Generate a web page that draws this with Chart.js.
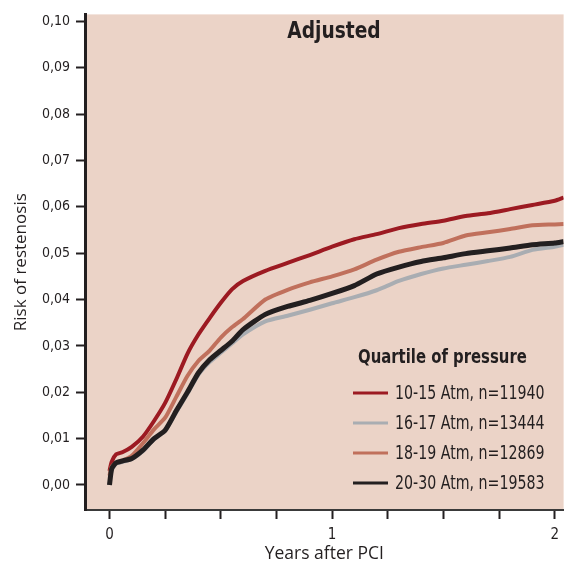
<!DOCTYPE html>
<html>
<head>
<meta charset="utf-8">
<script src="https://cdn.jsdelivr.net/npm/chart.js@4.4.0/dist/chart.umd.min.js"></script>
<style>
  html, body { margin: 0; padding: 0; background: #fff; }
  #wrap { width: 566px; height: 565px; }
</style>
</head>
<body>
<div id="wrap"><canvas id="km-chart"></canvas></div>
<script>
// years after PCI
var years = [0, 0.01, 0.03, 0.06, 0.1, 0.15, 0.2, 0.25, 0.3, 0.35, 0.4, 0.45, 0.5, 0.55, 0.6,
             0.7, 0.8, 0.9, 1.0, 1.1, 1.2, 1.3, 1.4, 1.5, 1.6, 1.7, 1.8, 1.9, 2.0, 2.04];

var atm10to15 = [0.003, 0.005, 0.0066, 0.0071, 0.0082, 0.0104, 0.0138, 0.0177, 0.0228, 0.0283, 0.0325, 0.036, 0.0393, 0.0422, 0.0440,
                 0.0462, 0.0479, 0.0496, 0.0514, 0.0530, 0.0541, 0.0554, 0.0563, 0.0570, 0.0580, 0.0586, 0.0595, 0.0604, 0.0613, 0.0620];
var atm16to17 = [0.000, 0.0033, 0.0046, 0.0050, 0.0056, 0.0073, 0.0098, 0.0117, 0.0157, 0.0197, 0.0238, 0.0265, 0.0285, 0.0305, 0.0325,
                 0.0353, 0.0365, 0.0378, 0.0392, 0.0405, 0.0420, 0.0440, 0.0455, 0.0467, 0.0475, 0.0483, 0.0492, 0.0507, 0.0514, 0.0518];
var atm18to19 = [0.002, 0.0040, 0.0048, 0.0053, 0.0063, 0.0090, 0.0120, 0.0145, 0.0190, 0.0235, 0.0268, 0.0290, 0.0318, 0.0340, 0.0358,
                 0.0400, 0.0421, 0.0437, 0.0450, 0.0465, 0.0486, 0.0503, 0.0513, 0.0522, 0.0538, 0.0545, 0.0552, 0.0560, 0.0562, 0.0563];
var atm20to30 = [0.000, 0.0035, 0.0048, 0.0052, 0.0057, 0.0075, 0.0100, 0.0118, 0.0160, 0.0200, 0.0242, 0.0270, 0.0290, 0.0310, 0.0335,
                 0.0368, 0.0385, 0.0398, 0.0413, 0.0430, 0.0455, 0.0470, 0.0482, 0.0490, 0.0499, 0.0505, 0.0511, 0.0518, 0.0522, 0.0525];

var yTicks = [0, 0.01, 0.02, 0.03, 0.04, 0.05, 0.06, 0.07, 0.08, 0.09, 0.10];
var xTicks = [0, 0.25, 0.5, 0.75, 1, 1.25, 1.5, 1.75, 2];
var xLabels = {0: "0", 1: "1", 2: "2"};

var narrow = "'DejaVu Sans Condensed', 'Liberation Sans', sans-serif";
var plain = "'Open Sans', 'Liberation Sans', sans-serif";

function pts(ys) {
    return years.map(function (x, i) { return {x: x, y: ys[i]}; });
}

// lower order is painted later (on top)
function series(label, ys, color, w, order) {
    return {
        label: label,
        data: pts(ys),
        borderColor: color,
        backgroundColor: color,
        borderWidth: w,
        pointRadius: 0,
        tension: 0.2,
        fill: false,
        order: order
    };
}

var plotBg = {
    id: 'plotBg',
    beforeDraw: function (chart) {
        var a = chart.chartArea, ctx = chart.ctx;
        ctx.save();
        ctx.fillStyle = '#EBD3C7';
        ctx.fillRect(a.left, a.top, a.right - a.left, a.bottom - a.top);
        ctx.restore();
    }
};

// squeeze text sideways, the original uses a condensed face
function narrowText(ctx, text, x, y, sx) {
    ctx.save();
    ctx.translate(x, y);
    ctx.scale(sx, 1);
    ctx.fillText(text, 0, 0);
    ctx.restore();
}

// title and legend sit inside the plot area
var insideText = {
    id: 'insideText',
    afterDraw: function (chart) {
        var ctx = chart.ctx;
        ctx.save();
        ctx.fillStyle = '#231F20';
        ctx.textBaseline = 'middle';
        ctx.textAlign = 'center';
        ctx.font = "bold 23px " + narrow;
        narrowText(ctx, 'Adjusted', 334, 32, 0.9);

        ctx.textAlign = 'left';
        ctx.font = "bold 19px " + narrow;
        narrowText(ctx, 'Quartile of pressure', 358, 358, 0.87);

        ctx.font = "19px " + narrow;
        chart.data.datasets.forEach(function (ds, i) {
            var y = 393 + i * 30;
            ctx.strokeStyle = ds.borderColor;
            ctx.lineWidth = 3;
            ctx.beginPath();
            ctx.moveTo(353, y);
            ctx.lineTo(388, y);
            ctx.stroke();
            ctx.fillStyle = '#231F20';
            narrowText(ctx, ds.label, 395, y + 1, 0.83);
        });
        ctx.restore();
    }
};

new Chart(document.getElementById("km-chart"), {
    type: 'line',
    data: {
        datasets: [
            series('10-15 Atm, n=11940', atm10to15, '#9C1A22', 4, 3),
            series('16-17 Atm, n=13444', atm16to17, '#A9ADB2', 4, 2),
            series('18-19 Atm, n=12869', atm18to19, '#C0705C', 4, 1),
            series('20-30 Atm, n=19583', atm20to30, '#231F20', 5, 0)
        ]
    },
    options: {
        responsive: true,
        maintainAspectRatio: false,
        animation: false,
        layout: { padding: { top: 11, right: 0, left: 0, bottom: 0 } },
        plugins: {
            legend: { display: false },
            tooltip: { enabled: false },
            title: { display: false }
        },
        scales: {
            x: {
                type: 'linear',
                min: -0.11,
                max: 2.04,
                afterBuildTicks: function (s) { s.ticks = xTicks.map(function (v) { return {value: v}; }); },
                afterFit: function (s) { s.height = 55; },
                ticks: {
                    autoSkip: false,
                    maxRotation: 0,
                    padding: 7,
                    color: '#231F20',
                    font: { family: narrow, size: 15 },
                    callback: function (v) { return xLabels[v] || ''; }
                },
                grid: { display: true, drawOnChartArea: false, tickLength: 9, tickColor: '#231F20', tickWidth: 2 },
                border: { display: true, color: '#3a3a3a', width: 2 },
                title: {
                    display: true,
                    text: 'Years after PCI',
                    color: '#231F20',
                    font: { family: plain, size: 17.5 },
                    padding: { top: 0, bottom: 0 }
                }
            },
            y: {
                type: 'linear',
                min: -0.0054,
                max: 0.1015,
                afterBuildTicks: function (s) { s.ticks = yTicks.map(function (v) { return {value: v}; }); },
                afterFit: function (s) { s.width = 85; },
                ticks: {
                    padding: 6,
                    color: '#231F20',
                    font: { family: narrow, size: 14 },
                    callback: function (v) { return v.toFixed(2).replace('.', ','); }
                },
                grid: { display: true, drawOnChartArea: false, tickLength: 9, tickColor: '#231F20', tickWidth: 2 },
                border: { display: true, color: '#231F20', width: 3 },
                title: {
                    display: true,
                    text: 'Risk of restenosis',
                    color: '#231F20',
                    font: { family: plain, size: 17 },
                    padding: { top: 11, bottom: 0 }
                }
            }
        }
    },
    plugins: [plotBg, insideText]
});
</script>
</body>
</html>
